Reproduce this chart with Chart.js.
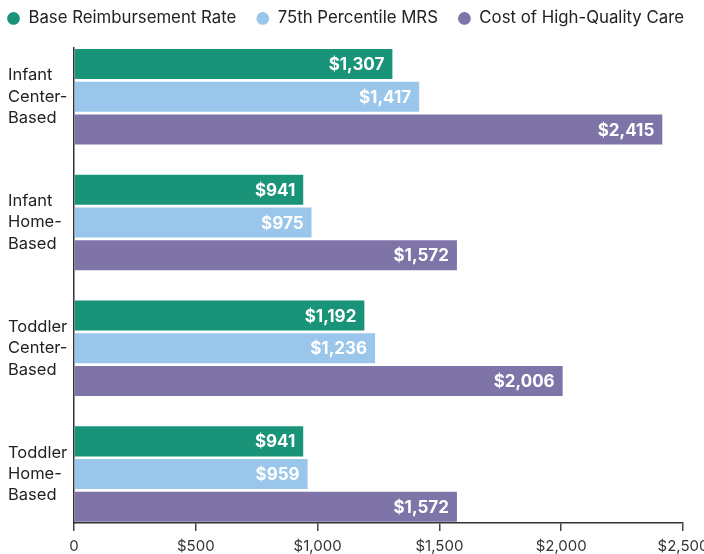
<!DOCTYPE html>
<html><head><meta charset="utf-8">
<script src="https://cdn.jsdelivr.net/npm/chart.js@4"></script>
<style>html,body{margin:0;padding:0;background:#fff}#wrap{width:704px;height:554px}</style>
</head><body><div id="wrap"><canvas id="c"></canvas></div>
<script>
const categories = [["Infant","Center-","Based"],["Infant","Home-","Based"],["Toddler","Center-","Based"],["Toddler","Home-","Based"]];
const seriesNames = ["Base Reimbursement Rate","75th Percentile MRS","Cost of High-Quality Care"];
const baseRate = [1307, 941, 1192, 941];
const percentile75 = [1417, 975, 1236, 959];
const highQuality = [2415, 1572, 2006, 1572];
const xTicks = [0, 500, 1000, 1500, 2000, 2500];
const colors = ["#199478","#99c6ea","#7f74a8"];
const FONT = "Inter, 'Noto Sans', sans-serif";

const toPts = arr => arr.map((v,i)=>({x:v,y:i}));
const fmt = v => "$" + v.toLocaleString("en-US");

const labelPlugin = {
  id:"barLabels",
  afterDatasetsDraw(chart){
    const ctx = chart.ctx;
    ctx.save();
    ctx.fillStyle = "#fff";
    ctx.font = "bold 17px " + FONT;
    ctx.textAlign = "right";
    ctx.textBaseline = "middle";
    chart.data.datasets.forEach((ds,di)=>{
      const meta = chart.getDatasetMeta(di);
      meta.data.forEach((bar,i)=>{
        ctx.fillText(fmt(ds.data[i].x), bar.x - 8, bar.y + 1);
      });
    });
    ctx.restore();
  }
};

const LEGEND_PAD = 20;
const legendSpace = {
  id:"legendSpace",
  beforeInit(chart){
    const lg = chart.legend;
    const orig = lg.fit;
    lg.fit = function(){ orig.call(this); this.height = 57.8; };
  },
  afterLayout(chart){
    chart.legend.left = 7 - LEGEND_PAD;
    chart.legend.right = 740;
  }
};

new Chart(document.getElementById("c"), {
  type:"bar",
  data:{
    datasets:[
      {label:seriesNames[0], data:toPts(baseRate), backgroundColor:colors[0]},
      {label:seriesNames[1], data:toPts(percentile75), backgroundColor:colors[1]},
      {label:seriesNames[2], data:toPts(highQuality), backgroundColor:colors[2]}
    ]
  },
  options:{
    indexAxis:"y",
    responsive:true, maintainAspectRatio:false, animation:false,
    categoryPercentage:0.78, barPercentage:0.918,
    layout:{padding:{left:8, right:0, top:-10, bottom:-7}},
    plugins:{
      legend:{position:"top", align:"start",
        labels:{usePointStyle:true, pointStyle:"circle", boxWidth:13, boxHeight:9, padding:LEGEND_PAD,
          color:"#222", font:{family:FONT, size:16.8}}},
      tooltip:{enabled:false}
    },
    scales:{
      y:{type:"linear", reverse:true, min:-0.389, max:3.389, offset:false,
        afterBuildTicks(s){ s.ticks = [0,1,2,3].map(v=>({value:v})); },
        afterFit(s){ s.width = 66; s.paddingTop = 0; s.paddingBottom = 0; },
        ticks:{callback:(v)=>categories[v], crossAlign:"far", color:"#222", padding:6,
          font:{family:FONT, size:16.5, lineHeight:1.3}},
        grid:{drawOnChartArea:false, drawTicks:false},
        border:{color:"#333", width:1.5}
      },
      x:{type:"linear", min:0, max:2500,
        afterBuildTicks(s){ s.ticks = xTicks.map(v=>({value:v})); },
        afterFit(s){ s.paddingRight = 21; s.paddingLeft = 0; },
        ticks:{callback:(v)=> v===0 ? "0" : fmt(v), color:"#333", padding:6, maxRotation:0,
          font:{family:FONT, size:15}},
        grid:{drawOnChartArea:false, drawTicks:true, tickLength:8, color:"#444", lineWidth:1.5},
        border:{color:"#333", width:1.5}
      }
    }
  },
  plugins:[labelPlugin, legendSpace]
});
</script></body></html>
